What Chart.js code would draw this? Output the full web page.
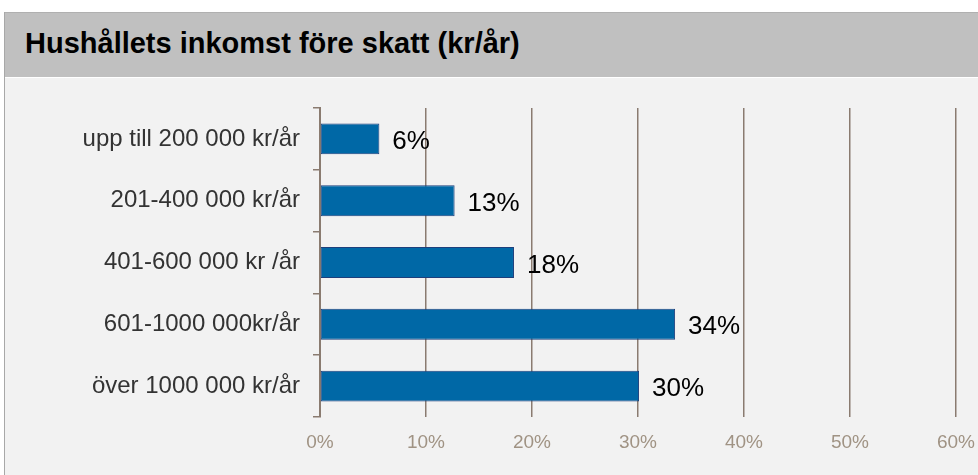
<!DOCTYPE html>
<html>
<head>
<meta charset="utf-8">
<script src="https://cdn.jsdelivr.net/npm/chart.js@4.4.1/dist/chart.umd.min.js"></script>
<style>
  html, body { margin: 0; padding: 0; background: #ffffff; width: 978px; height: 475px; overflow: hidden; }
  #frame { position: absolute; left: 4px; top: 12px; width: 974px; height: 463px; border-left: 1px solid #a8a8a8; }
  #header { position: absolute; left: 0; top: 0; width: 974px; height: 65px; background: #c0c0c0; border-top: 1px solid #b0b0b0; box-sizing: border-box; }
  #header h1 { margin: 0; position: absolute; left: 20px; top: 13px; font-family: "Liberation Sans", Arial, sans-serif; font-weight: bold; font-size: 29px; line-height: 34px; color: #000; white-space: nowrap; }
  #body { position: absolute; left: 0; top: 66px; width: 973px; height: 397px; background: #f2f2f2; }
  canvas { display: block; }
</style>
</head>
<body>
<div id="frame">
  <div id="header"><h1>Hushållets inkomst före skatt (kr/år)</h1></div>
  <div id="body"><canvas id="c" width="973" height="397"></canvas></div>
</div>
<script>
const categories = [
  "upp till 200 000 kr/år",
  "201-400 000 kr/år",
  "401-600 000 kr /år",
  "601-1000 000kr/år",
  "över 1000 000 kr/år"
];
const values = [5.6, 12.7, 18.3, 33.5, 30.1];
const valueLabels = ["6%", "13%", "18%", "34%", "30%"];
const xTicks = [0, 10, 20, 30, 40, 50, 60];

const gridColor = "#8a7b70";
const tickColor = "#a09384";

const dataLabelPlugin = {
  id: "dataLabels",
  afterDatasetsDraw(chart) {
    const ctx = chart.ctx;
    const meta = chart.getDatasetMeta(0);
    ctx.save();
    ctx.font = "26px 'Liberation Sans', Arial, sans-serif";
    ctx.fillStyle = "#000000";
    ctx.textAlign = "left";
    ctx.textBaseline = "middle";
    meta.data.forEach((bar, i) => {
      ctx.fillText(valueLabels[i], bar.x + 13, bar.y + 3);
    });
    ctx.restore();
  }
};

new Chart(document.getElementById("c"), {
  type: "bar",
  data: {
    labels: categories,
    datasets: [{
      data: values,
      backgroundColor: "#0068a6",
      borderColor: "#1d3f7c",
      borderWidth: 1,
      borderSkipped: false,
      barPercentage: 0.5,
      categoryPercentage: 1.0
    }]
  },
  options: {
    indexAxis: "y",
    responsive: false,
    animation: false,
    devicePixelRatio: 1,
    layout: { autoPadding: false, padding: { top: 30, right: 22, left: 0, bottom: 0 } },
    plugins: { legend: { display: false }, tooltip: { enabled: false }, title: { display: false } },
    scales: {
      x: {
        min: 0,
        max: 60,
        afterBuildTicks(scale) { scale.ticks = xTicks.map(v => ({ value: v })); },
        afterFit(scale) { scale.height = 58; scale.paddingLeft = 0; scale.paddingRight = 0; },
        border: { display: false },
        grid: { display: true, drawOnChartArea: true, drawTicks: false, color: gridColor, lineWidth: 1.5 },
        ticks: {
          padding: 14,
          color: tickColor,
          font: { family: "'Liberation Sans', Arial, sans-serif", size: 19 },
          callback: v => v + "%"
        }
      },
      y: {
        afterFit(scale) { scale.width = 315; },
        border: { display: true, color: gridColor, width: 2 },
        grid: { display: true, offset: true, drawOnChartArea: false, drawTicks: true, tickLength: 7, color: gridColor, lineWidth: 1.5 },
        ticks: {
          padding: 13,
          color: "#333333",
          font: { family: "'Liberation Sans', Arial, sans-serif", size: 24 }
        }
      }
    }
  },
  plugins: [dataLabelPlugin]
});
</script>
</body>
</html>
